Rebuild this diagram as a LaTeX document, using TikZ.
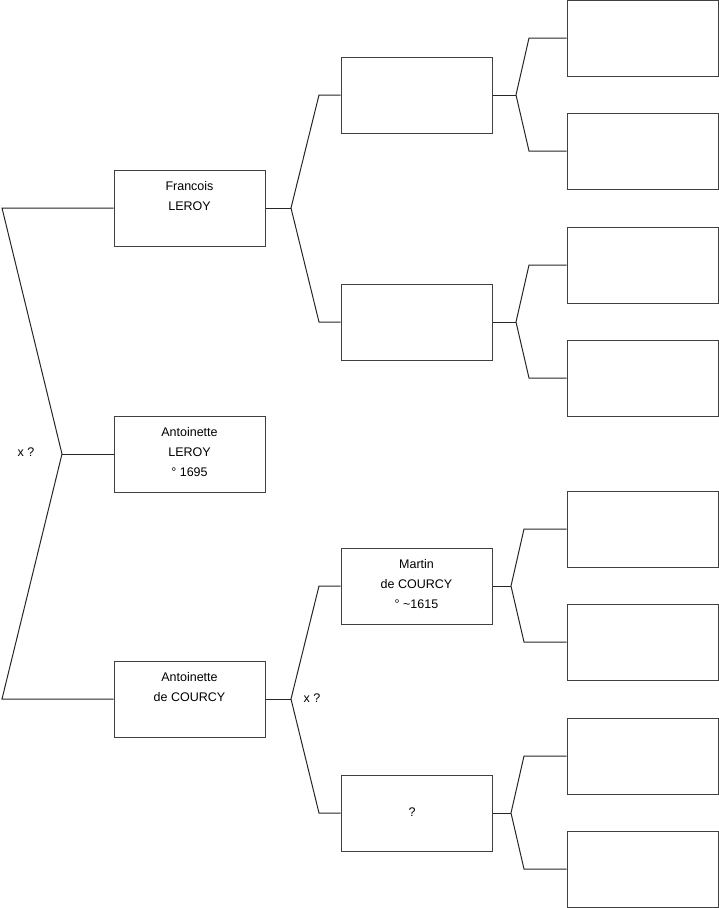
\documentclass[tikz,border=0pt]{standalone}
\usepackage{fontspec}
\setmainfont{Liberation Sans}
\usetikzlibrary{calc}
\begin{document}
\begin{tikzpicture}[x=1pt,y=-1pt,
  box/.style={draw=black!75,line width=1pt,minimum width=151pt,minimum height=76pt,inner sep=0pt},
  txt/.style={anchor=north,align=center,inner sep=0pt,font=\fontsize{12.5pt}{20pt}\selectfont},
  lbl/.style={inner sep=0pt,font=\fontsize{12.5pt}{20pt}\selectfont},
  con/.style={draw=black!85,line width=1pt}]
\useasboundingbox (0,0) rectangle (719,908);
% generation 1
\node[box] (f) at (189.5,208) {};
\node[box] (a) at (189.5,454) {};
\node[box] (c) at (189.5,699) {};
% generation 2
\node[box] (g1) at (416.5,95) {};
\node[box] (g2) at (416.5,322) {};
\node[box] (g3) at (416.5,586) {};
\node[box] (g4) at (416.5,813) {};
% generation 3
\node[box] (h1) at (642.5,38) {};
\node[box] (h2) at (642.5,151) {};
\node[box] (h3) at (642.5,265) {};
\node[box] (h4) at (642.5,378) {};
\node[box] (h5) at (642.5,529) {};
\node[box] (h6) at (642.5,642) {};
\node[box] (h7) at (642.5,756) {};
\node[box] (h8) at (642.5,869) {};
% texts
\node[txt] (tf) at ($(f.north)+(0,12)$) {Francois\\LEROY};
\node[txt] (ta) at ($(a.north)+(0,12)$) {Antoinette\\LEROY\\° 1695};
\node[txt] (tc) at ($(c.north)+(0,12)$) {Antoinette\\de COURCY};
\node[txt] (tg3) at ($(g3.north)+(0,12)$) {Martin\\de COURCY\\° \textasciitilde1615};
\node[lbl] (tg4) at (412,812) {?};
\node[lbl] (x1) at (26,452) {x ?};
\node[lbl] (x2) at (312,698) {x ?};
% connectors gen1
\coordinate (L1) at (2,208);
\coordinate (L2) at (62,454);
\coordinate (L3) at (2,699);
\draw[con] (f.west) -- (L1) -- (L2) -- (L3) -- (c.west);
\draw[con] (L2) -- (a.west);
% connectors gen2
\coordinate (b1) at (291,208);
\coordinate (b1a) at (319,95);
\coordinate (b1b) at (319,322);
\draw[con] (g1.west) -- (b1a) -- (b1) -- (b1b) -- (g2.west);
\draw[con] (f.east) -- (b1);
\coordinate (b2) at (291,699);
\coordinate (b2a) at (319,586);
\coordinate (b2b) at (319,813);
\draw[con] (g3.west) -- (b2a) -- (b2) -- (b2b) -- (g4.west);
\draw[con] (c.east) -- (b2);
% connectors gen3
\coordinate (k1) at (516,95);
\coordinate (k1a) at (529,38);
\coordinate (k1b) at (529,151);
\draw[con] (h1.west) -- (k1a) -- (k1) -- (k1b) -- (h2.west);
\draw[con] (g1.east) -- (k1);
\coordinate (k2) at (516,322);
\coordinate (k2a) at (529,265);
\coordinate (k2b) at (529,378);
\draw[con] (h3.west) -- (k2a) -- (k2) -- (k2b) -- (h4.west);
\draw[con] (g2.east) -- (k2);
\coordinate (k3) at (511,586);
\coordinate (k3a) at (524,529);
\coordinate (k3b) at (524,642);
\draw[con] (h5.west) -- (k3a) -- (k3) -- (k3b) -- (h6.west);
\draw[con] (g3.east) -- (k3);
\coordinate (k4) at (511,813);
\coordinate (k4a) at (524,756);
\coordinate (k4b) at (524,869);
\draw[con] (h7.west) -- (k4a) -- (k4) -- (k4b) -- (h8.west);
\draw[con] (g4.east) -- (k4);
\end{tikzpicture}
\end{document}
